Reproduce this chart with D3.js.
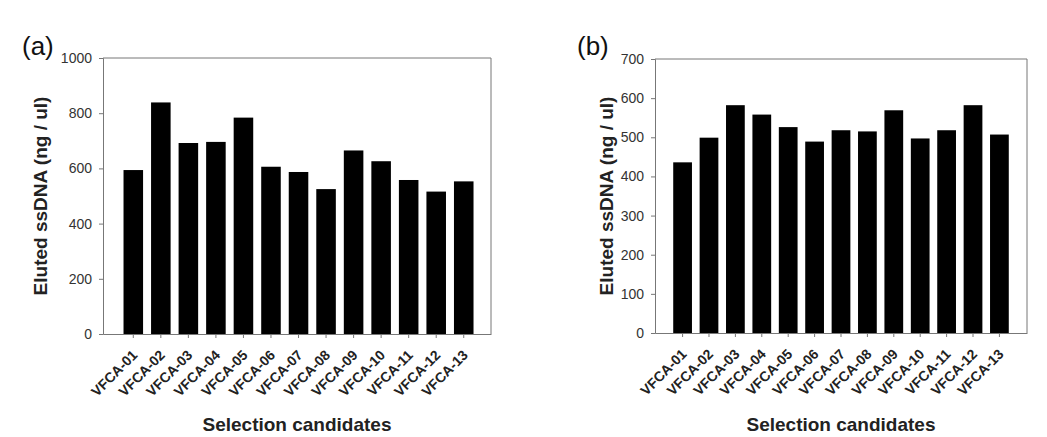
<!DOCTYPE html>
<html>
<head>
    <title>Eluted ssDNA</title>
    <script src="https://d3js.org/d3.v7.min.js"></script>
    <style>
        body { margin: 0; background: #fff; }
        svg { display: block; }
        text { font-family: "Liberation Sans", Arial, sans-serif; }
        .tick-y { font-size: 14px; fill: #333; }
        .tick-x { font-size: 14px; font-weight: bold; fill: #222; }
        .axis-title { font-size: 19px; font-weight: bold; fill: #222; }
        .panel-label { font-size: 26px; fill: #111; }
    </style>
</head>
<body>
    <svg></svg>
    <script>
        // Datos
        const categories = ["VFCA-01", "VFCA-02", "VFCA-03", "VFCA-04", "VFCA-05", "VFCA-06", "VFCA-07",
                            "VFCA-08", "VFCA-09", "VFCA-10", "VFCA-11", "VFCA-12", "VFCA-13"];
        const valuesA = [594, 839, 692, 696, 784, 606, 587, 525, 665, 626, 558, 516, 553];
        const valuesB = [436, 499, 582, 558, 526, 489, 518, 515, 569, 497, 518, 582, 507];
        const yTicksA = [0, 200, 400, 600, 800, 1000];
        const yTicksB = [0, 100, 200, 300, 400, 500, 600, 700];

        const width = 1047;
        const height = 437;

        const svg = d3.select("svg")
            .attr("width", width)
            .attr("height", height);

        // Un panel por gráfico
        function drawPanel(opts) {
            const { label, values, ticks, left, right, top, bottom, align, titleX } = opts;
            const g = svg.append("g");

            const x = d3.scaleBand()
                .domain(categories)
                .range([left, right])
                .paddingInner(0.29)
                .paddingOuter(0.69)
                .align(align);

            const y = d3.scaleLinear()
                .domain([0, ticks[ticks.length - 1]])
                .range([bottom, top]);

            // Barras
            g.append("g")
                .selectAll("rect")
                .data(values)
                .join("rect")
                .attr("x", (d, i) => x(categories[i]))
                .attr("y", d => y(d))
                .attr("width", x.bandwidth())
                .attr("height", d => y(0) - y(d))
                .attr("fill", "#000");

            // Eje Y
            const yAxis = g.append("g")
                .attr("transform", `translate(${left},0)`)
                .call(d3.axisLeft(y).tickValues(ticks).tickFormat(d3.format("d")).tickSize(4).tickPadding(7));
            yAxis.select(".domain").attr("stroke", "#777");
            yAxis.selectAll(".tick line").attr("stroke", "#777");
            yAxis.selectAll(".tick text").attr("class", "tick-y").attr("font-size", null).attr("font-family", null);

            // Eje X
            const xAxis = g.append("g")
                .attr("transform", `translate(0,${bottom})`)
                .call(d3.axisBottom(x).tickSize(4).tickSizeOuter(0));
            xAxis.select(".domain").attr("stroke", "#777");
            xAxis.selectAll(".tick line").attr("stroke", "#777");
            xAxis.selectAll(".tick text")
                .attr("class", "tick-x")
                .attr("font-size", null).attr("font-family", null)
                .attr("text-anchor", "end")
                .attr("y", null).attr("dy", null)
                .attr("transform", "translate(5,22) rotate(-45)");

            // Marco superior y derecho
            g.append("path")
                .attr("d", `M${left},${top}H${right}V${bottom}`)
                .attr("fill", "none")
                .attr("stroke", "#777");

            // Títulos
            g.append("text")
                .attr("class", "axis-title")
                .attr("text-anchor", "middle")
                .attr("transform", `translate(${titleX},${(top + bottom) / 2}) rotate(-90)`)
                .attr("dy", "0.35em")
                .text("Eluted ssDNA (ng / ul)");

            g.append("text")
                .attr("class", "axis-title")
                .attr("text-anchor", "middle")
                .attr("x", (left + right) / 2)
                .attr("y", 431)
                .text("Selection candidates");

            g.append("text")
                .attr("class", "panel-label")
                .attr("x", opts.labelX)
                .attr("y", 55)
                .text(label);
        }

        drawPanel({ label: "(a)", values: valuesA, ticks: yTicksA,
                    left: 103, right: 491, top: 58, bottom: 334, align: 0.54, titleX: 40, labelX: 22 });
        drawPanel({ label: "(b)", values: valuesB, ticks: yTicksB,
                    left: 655, right: 1027, top: 59, bottom: 333, align: 0.5, titleX: 606, labelX: 577 });
    </script>
</body>
</html>
